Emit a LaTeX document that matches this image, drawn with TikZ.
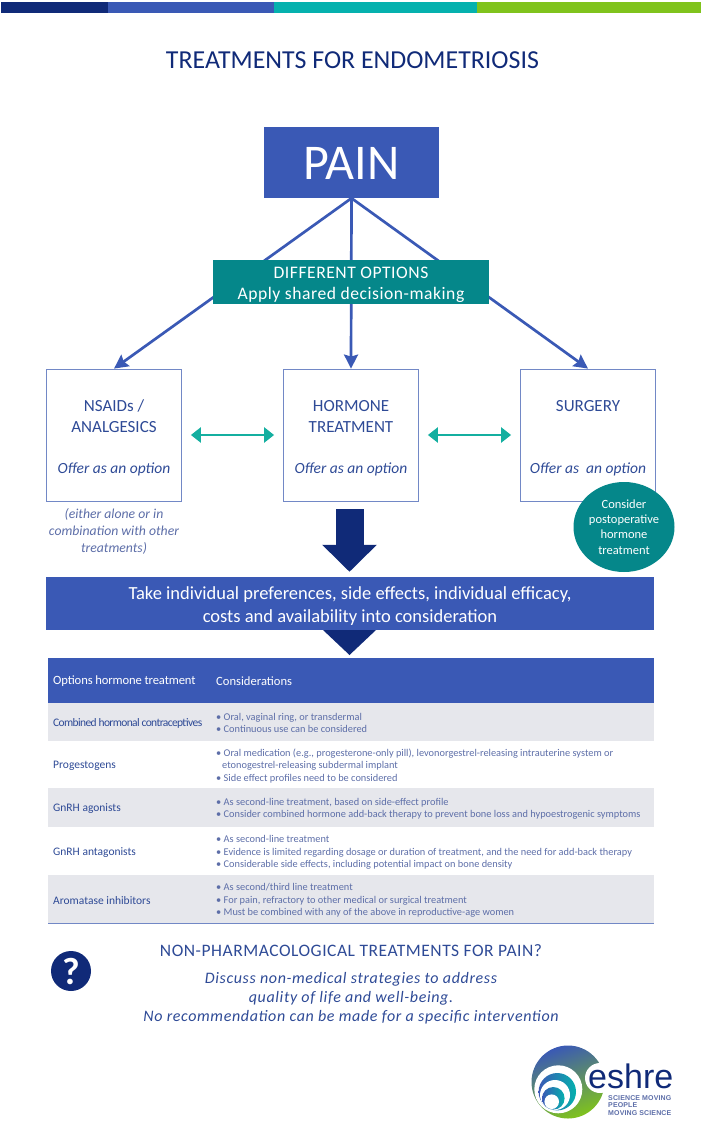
\documentclass[tikz,border=0pt]{standalone}
\usepackage{fontspec}
\setmainfont{Carlito}
\newfontfamily\logofont{Liberation Sans}
\usetikzlibrary{arrows.meta, positioning, shapes.geometric}
\definecolor{navy}{HTML}{102A78}
\definecolor{midblue}{HTML}{3A59B5}
\definecolor{barteal}{HTML}{05B1AE}
\definecolor{bargreen}{HTML}{80C31C}
\definecolor{darkteal}{HTML}{05878A}
\definecolor{arrowteal}{HTML}{14AFA0}
\definecolor{boxline}{HTML}{7288C6}
\definecolor{boxtext}{HTML}{2E4A96}
\definecolor{softtext}{HTML}{5D6EA8}
\definecolor{rowgrey}{HTML}{E6E7EC}

\begin{document}
\begin{tikzpicture}[x=1pt, y=-1pt]
	\tikzstyle{bar} = [rectangle, inner sep=0pt, outer sep=0pt, minimum height=11pt, anchor=north west]
	\tikzstyle{box} = [rectangle, draw=boxline, line width=0.8pt, minimum width=135pt, minimum height=132pt, align=center, text=boxtext, font=\fontsize{17}{21}\selectfont]
	\tikzstyle{arrow} = [draw=midblue, line width=2.7pt, -{Stealth[length=14pt, width=14pt, inset=2pt]}]
	\tikzstyle{twoway} = [draw=arrowteal, line width=2.6pt, {Triangle[length=10pt, width=15pt]}-{Triangle[length=10pt, width=15pt]}, shorten <=9pt, shorten >=9pt]
	\tikzstyle{row} = [rectangle, outer sep=0pt, inner sep=0pt, minimum width=606pt, anchor=north]
	\tikzstyle{rowname} = [anchor=west, inner sep=0pt, yshift=-1.5pt, text=boxtext, font=\fontsize{11.5}{13}\selectfont]
	\tikzstyle{rowhead} = [anchor=west, inner sep=0pt, yshift=-1pt, text=white, font=\fontsize{12.6}{15}\selectfont]
	\tikzstyle{rowtext} = [anchor=west, inner sep=0pt, yshift=-1.5pt, align=left, text=softtext, font=\fontsize{10.35}{12.5}\selectfont]
	\useasboundingbox (0,0) rectangle (702,1121);

	% top stripe
	\node[bar, fill=navy, minimum width=107pt] (bar1) at (1,2) {};
	\node[bar, fill=midblue, minimum width=166pt, right=0pt of bar1] (bar2) {};
	\node[bar, fill=barteal, minimum width=203pt, right=0pt of bar2] (bar3) {};
	\node[bar, fill=bargreen, minimum width=224pt, right=0pt of bar3] (bar4) {};

	\node[text=navy, font=\fontsize{25.9}{30}\selectfont] (title) at (352.5,60) {TREATMENTS FOR ENDOMETRIOSIS};

	% decision part
	\node[rectangle, fill=midblue, minimum width=175pt, minimum height=71pt, text=white, font=\fontsize{50}{60}\selectfont] (pain) at (351.5,162.5) {\rule{0pt}{34pt}PAIN};

	\node[box] (nsaids) at (114,435) {\rule{0pt}{18pt}NSAIDs /\\ANALGESICS\\[20pt]{\fontsize{15.5}{21}\selectfont\textit{Offer as an option}}};
	\node[box] (hormone) at (351,435) {\rule{0pt}{18pt}HORMONE\\TREATMENT\\[20pt]{\fontsize{15.5}{21}\selectfont\textit{Offer as an option}}};
	\node[box] (surgery) at (588,435) {\rule{0pt}{18pt}SURGERY\\\mbox{}\\[20pt]{\fontsize{15.5}{21}\selectfont\textit{Offer as\ \ an option}}};

	\draw[arrow] (pain.south) to (nsaids.north);
	\draw[arrow] (pain.south) to (hormone.north);
	\draw[arrow] (pain.south) to (surgery.north);

	\node[rectangle, fill=darkteal, inner sep=0pt, minimum width=276pt, minimum height=44pt, align=center, text=white, font=\fontsize{17.6}{21}\selectfont] (options) at (351,282) {\rule{0pt}{17pt}\addfontfeature{LetterSpace=3}DIFFERENT OPTIONS\\\addfontfeature{LetterSpace=3}Apply shared decision-making};

	\draw[twoway] (nsaids) to (hormone);
	\draw[twoway] (hormone) to (surgery);

	\node[below=4pt of nsaids, align=center, text=softtext, font=\fontsize{13.7}{17}\selectfont\itshape] (either) {(either alone or in\\combination with other\\treatments)};

	\node[ellipse, fill=darkteal, minimum width=101pt, minimum height=90pt, inner sep=0pt, align=center, text=white, font=\fontsize{12.5}{15.3}\selectfont] (postop) at (624,527) {Consider\\postoperative\\hormone\\treatment};

	\node[rectangle, fill=midblue, inner sep=0pt, minimum width=608pt, minimum height=53pt, align=center, text=white, font=\fontsize{18.5}{23}\selectfont] (banner) at (350,603.5) {\rule{0pt}{18pt}Take individual preferences, side effects, individual efficacy,\\costs and availability into consideration};

	\draw[navy, line width=28pt, -{Triangle[length=27pt, width=53pt]}, shorten <=8pt, shorten >=5pt] ([xshift=-1.5pt]hormone.south) to ([xshift=-1.5pt]hormone.south |- banner.north);
	\fill[navy] (323,630) -- (376,630) -- (349.5,655) -- cycle;

	% table
	\node[row, fill=midblue, minimum height=44.5pt] (head) at (351,658) {};
	\node[row, fill=rowgrey, below=0pt of head, minimum height=38pt] (row1) {};
	\node[row, below=0pt of row1, minimum height=47.5pt] (row2) {};
	\node[row, fill=rowgrey, below=0pt of row2, minimum height=39pt] (row3) {};
	\node[row, below=0pt of row3, minimum height=48pt] (row4) {};
	\node[row, fill=rowgrey, below=0pt of row4, minimum height=48pt] (row5) {};
	\draw[boxline, line width=1pt] (row5.south west) to (row5.south east);

	\node[rowhead, xshift=5pt] (headname) at (head.west) {\addfontfeature{LetterSpace=-1}Options hormone treatment};
	\node[rowhead, xshift=168pt] (headtext) at (head.west) {Considerations};

	\node[rowname, xshift=5pt] (name1) at (row1.west) {\addfontfeature{LetterSpace=-5.5}Combined hormonal contraceptives};
	\node[rowname, xshift=5pt] (name2) at (row2.west) {Progestogens};
	\node[rowname, xshift=5pt] (name3) at (row3.west) {GnRH agonists};
	\node[rowname, xshift=5pt] (name4) at (row4.west) {GnRH antagonists};
	\node[rowname, xshift=5pt] (name5) at (row5.west) {Aromatase inhibitors};

	\node[rowtext, xshift=168pt] (text1) at (row1.west) {• Oral, vaginal ring, or transdermal\\• Continuous use can be considered};
	\node[rowtext, xshift=168pt] (text2) at (row2.west) {• Oral medication (e.g., progesterone-only pill), levonorgestrel-releasing intrauterine system or\\\hspace*{6pt}etonogestrel-releasing subdermal implant\\• Side effect profiles need to be considered};
	\node[rowtext, xshift=168pt] (text3) at (row3.west) {• As second-line treatment, based on side-effect profile\\• Consider combined hormone add-back therapy to prevent bone loss and hypoestrogenic symptoms};
	\node[rowtext, xshift=168pt] (text4) at (row4.west) {• As second-line treatment\\• Evidence is limited regarding dosage or duration of treatment, and the need for add-back therapy\\• Considerable side effects, including potential impact on bone density};
	\node[rowtext, xshift=168pt] (text5) at (row5.west) {• As second/third line treatment\\• For pain, refractory to other medical or surgical treatment\\• Must be combined with any of the above in reproductive-age women};

	% question part
	\node[circle, fill=navy, minimum size=40pt, inner sep=0pt, text=white, font=\fontsize{38}{38}\selectfont\bfseries] (question) at (71,971) {?};
	\node[text=boxtext, font=\fontsize{17.5}{20}\selectfont] (nonpharm) at (351,950.5) {\addfontfeature{LetterSpace=3}NON-PHARMACOLOGICAL TREATMENTS FOR PAIN?};
	\node[below=9pt of nonpharm, align=center, text=boxtext, font=\fontsize{16}{19}\selectfont\itshape] (discuss) {\addfontfeature{LetterSpace=4}Discuss non-medical strategies to address\\\addfontfeature{LetterSpace=4}quality of life and well-being.\\\addfontfeature{LetterSpace=4}No recommendation can be made for a specific intervention};

	% logo
	\shade[left color=midblue, middle color=barteal, right color=bargreen, shading angle=20] (568,1082) circle (36.5);
	\fill[white] (558.3,1089.3) circle (24);
	\shade[left color=midblue, right color=barteal] (557.3,1091.7) circle (18.7);
	\fill[white] (555,1095) circle (15);
	\shade[left color=midblue, right color=barteal] (553.3,1098.3) circle (11.3);
	\fill[white] (551.7,1101.7) circle (7.3);
	\fill[white] (600,1078) circle (15);
	\node[anchor=west, inner sep=0pt, text=navy, font=\logofont\fontsize{34}{34}\selectfont] (eshre) at (588,1076) {eshre};
	\node[anchor=north west, inner sep=0pt, align=left, text=softtext, font=\logofont\fontsize{7}{7.6}\selectfont\bfseries] (slogan) at (608,1095) {\addfontfeature{LetterSpace=2}SCIENCE MOVING\\\addfontfeature{LetterSpace=2}PEOPLE\\\addfontfeature{LetterSpace=2}MOVING SCIENCE};
\end{tikzpicture}
\end{document}
